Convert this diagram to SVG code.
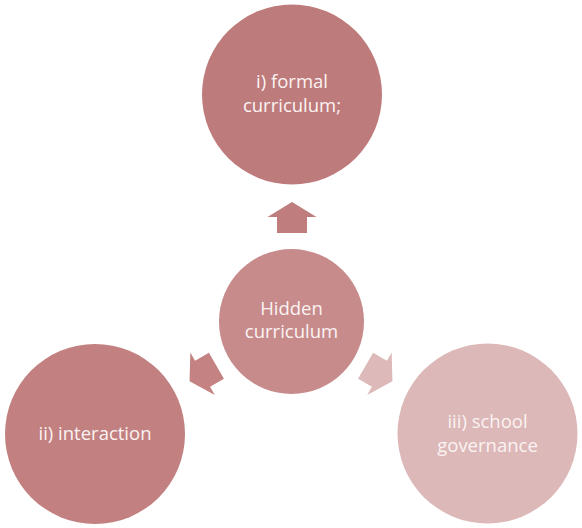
<svg xmlns="http://www.w3.org/2000/svg" width="582" height="528" viewBox="0 0 582 528">
<style>
  .lbl { font-family: "Open Sans", "Liberation Sans", Arial, sans-serif; font-size: 18.5px; fill: #fbf3f3; text-anchor: middle; }
</style>
<defs>
  <path id="arr" d="M0,-15.5 L24.5,-0.5 L15,-0.5 L15,15.5 L-15,15.5 L-15,-0.5 L-24.5,-0.5 Z"/>
</defs>
<rect width="582" height="528" fill="#ffffff"/>
<g id="connectors">
  <use href="#arr" transform="translate(292,217.5)" fill="#c07d7d"/>
  <use href="#arr" transform="translate(203,373.5) rotate(-120)" fill="#c48282"/>
  <use href="#arr" transform="translate(379,373.5) rotate(120)" fill="#ddb9b9"/>
</g>
<g id="node-center">
  <circle cx="291.5" cy="321.5" r="72.5" fill="#c78b8b"/>
  <text class="lbl" x="291.5" y="315">Hidden</text>
  <text class="lbl" x="291.5" y="338">curriculum</text>
</g>
<g id="node-top">
  <circle cx="292" cy="94.5" r="90" fill="#be7b7b"/>
  <text class="lbl" x="292" y="88">i) formal</text>
  <text class="lbl" x="292" y="112">curriculum;</text>
</g>
<g id="node-left">
  <circle cx="95" cy="434" r="90" fill="#c28080"/>
  <text class="lbl" x="95" y="440">ii) interaction</text>
</g>
<g id="node-right">
  <circle cx="487.5" cy="433.5" r="90" fill="#dcb8b8"/>
  <text class="lbl" x="487.5" y="428">iii) school</text>
  <text class="lbl" x="487.5" y="452">governance</text>
</g>
</svg>
